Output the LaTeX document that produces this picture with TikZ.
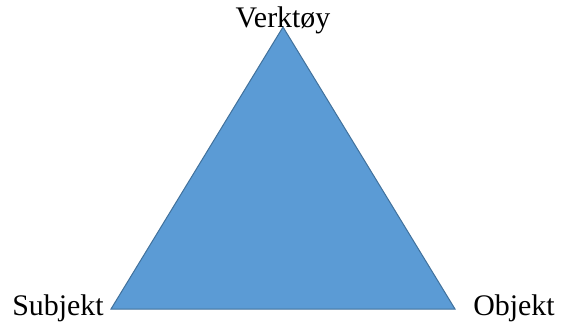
\documentclass[tikz,border=0pt]{standalone}
\usepackage{fontspec}
\setmainfont{Liberation Serif}
\usetikzlibrary{positioning}
\definecolor{TriBlue}{RGB}{91,155,213}
\definecolor{TriEdge}{RGB}{65,113,156}
\tikzset{
  corner/.style={inner sep=0pt,anchor=base,font=\fontsize{30}{36}\selectfont},
  tri/.style={draw=TriEdge,fill=TriBlue,line width=1bp,line join=miter}
}

\begin{document}
\begin{tikzpicture}[x=1bp,y=-1bp]
  \useasboundingbox (0,0) rectangle (566,323);
  \coordinate (top) at (283,27);
  \coordinate (left) at (111,309);
  \coordinate (right) at (455,309);
  \draw[tri] (top) -- (left) -- (right) -- cycle;
  \node[corner] (verktoy) at (283,27) {Verktøy};
  \node[corner] (subjekt) at (58,315) {Subjekt};
  \node[corner] (objekt) at (514,315) {Objekt};
\end{tikzpicture}
\end{document}
